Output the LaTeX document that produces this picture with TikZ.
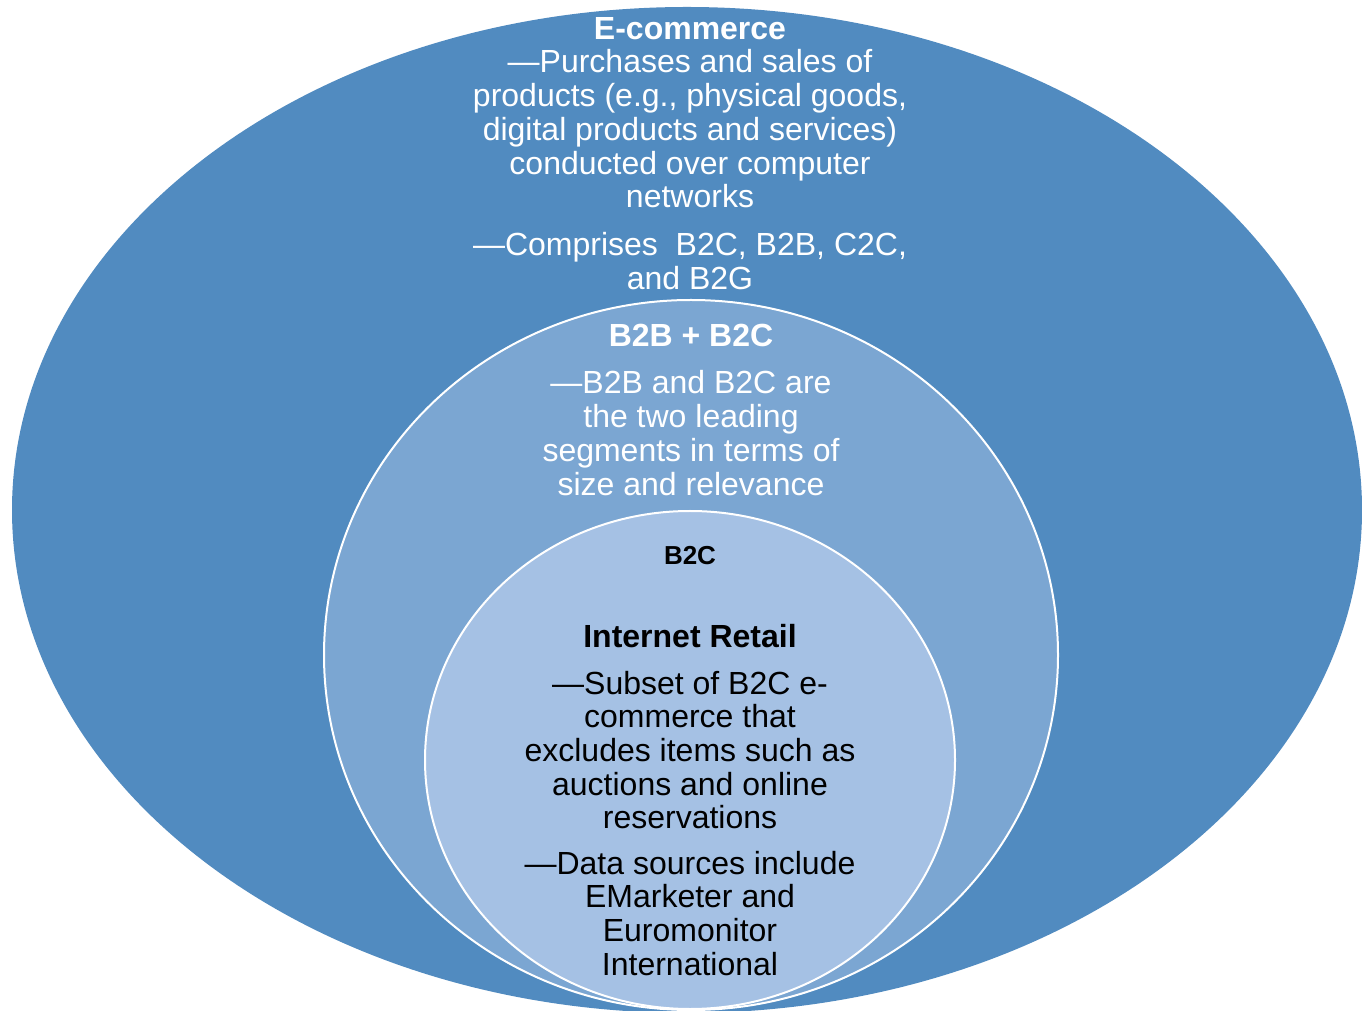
\documentclass[tikz,border=0pt]{standalone}
\usepackage{fontspec}
\setmainfont{Liberation Sans}
\definecolor{outerblue}{RGB}{81,139,192}
\definecolor{midblue}{RGB}{123,166,210}
\definecolor{innerblue}{RGB}{165,193,228}
\begin{document}
\begin{tikzpicture}[x=1pt,y=1pt,
  txt/.style={inner sep=0pt, align=center, anchor=base,
    font=\fontsize{32}{33.7}\selectfont},
  head/.style={txt, font=\fontsize{32}{33.7}\selectfont\bfseries},
  ring/.style={draw=white, line width=2pt}]
\clip (0,0) rectangle (1362,1010);
% nested segments, tangent at the bottom
\fill[outerblue] (687,500) ellipse [x radius=675, y radius=503];
\filldraw[ring, fill=midblue] (691,355) ellipse [x radius=367, y radius=355];
\filldraw[ring, fill=innerblue] (690,250) ellipse [x radius=265, y radius=249];

% E-commerce (multi-line nodes are placed by the baseline of their last line)
\node[head, text=white] (ecom) at (690,970) {E-commerce};
\node[txt, text=white] (ecomdef) at (690,802.2)
  {—Purchases and sales of\\products (e.g., physical goods,\\digital products and services)\\conducted over computer\\networks};
\node[txt, text=white] (ecomseg) at (690,720.3) {—Comprises\ \ B2C, B2B, C2C,\\and B2G};

% B2B + B2C
\node[head, text=white] (bb) at (691,663) {B2B + B2C};
\node[txt, text=white] (bbdef) at (691,514.9)
  {—B2B and B2C are\\the two leading\\segments in terms of\\size and relevance};

% B2C / Internet Retail
\node[txt, font=\fontsize{26}{28}\selectfont\bfseries] (btc) at (690,445) {B2C};
\node[head] (retail) at (690,362) {Internet Retail};
\node[txt] (retaildef) at (690,181.2)
  {—Subset of B2C e-\\commerce that\\excludes items such as\\auctions and online\\reservations};
\node[txt] (retailsrc) at (690,34.9)
  {—Data sources include\\EMarketer and\\Euromonitor\\International};
\end{tikzpicture}
\end{document}
